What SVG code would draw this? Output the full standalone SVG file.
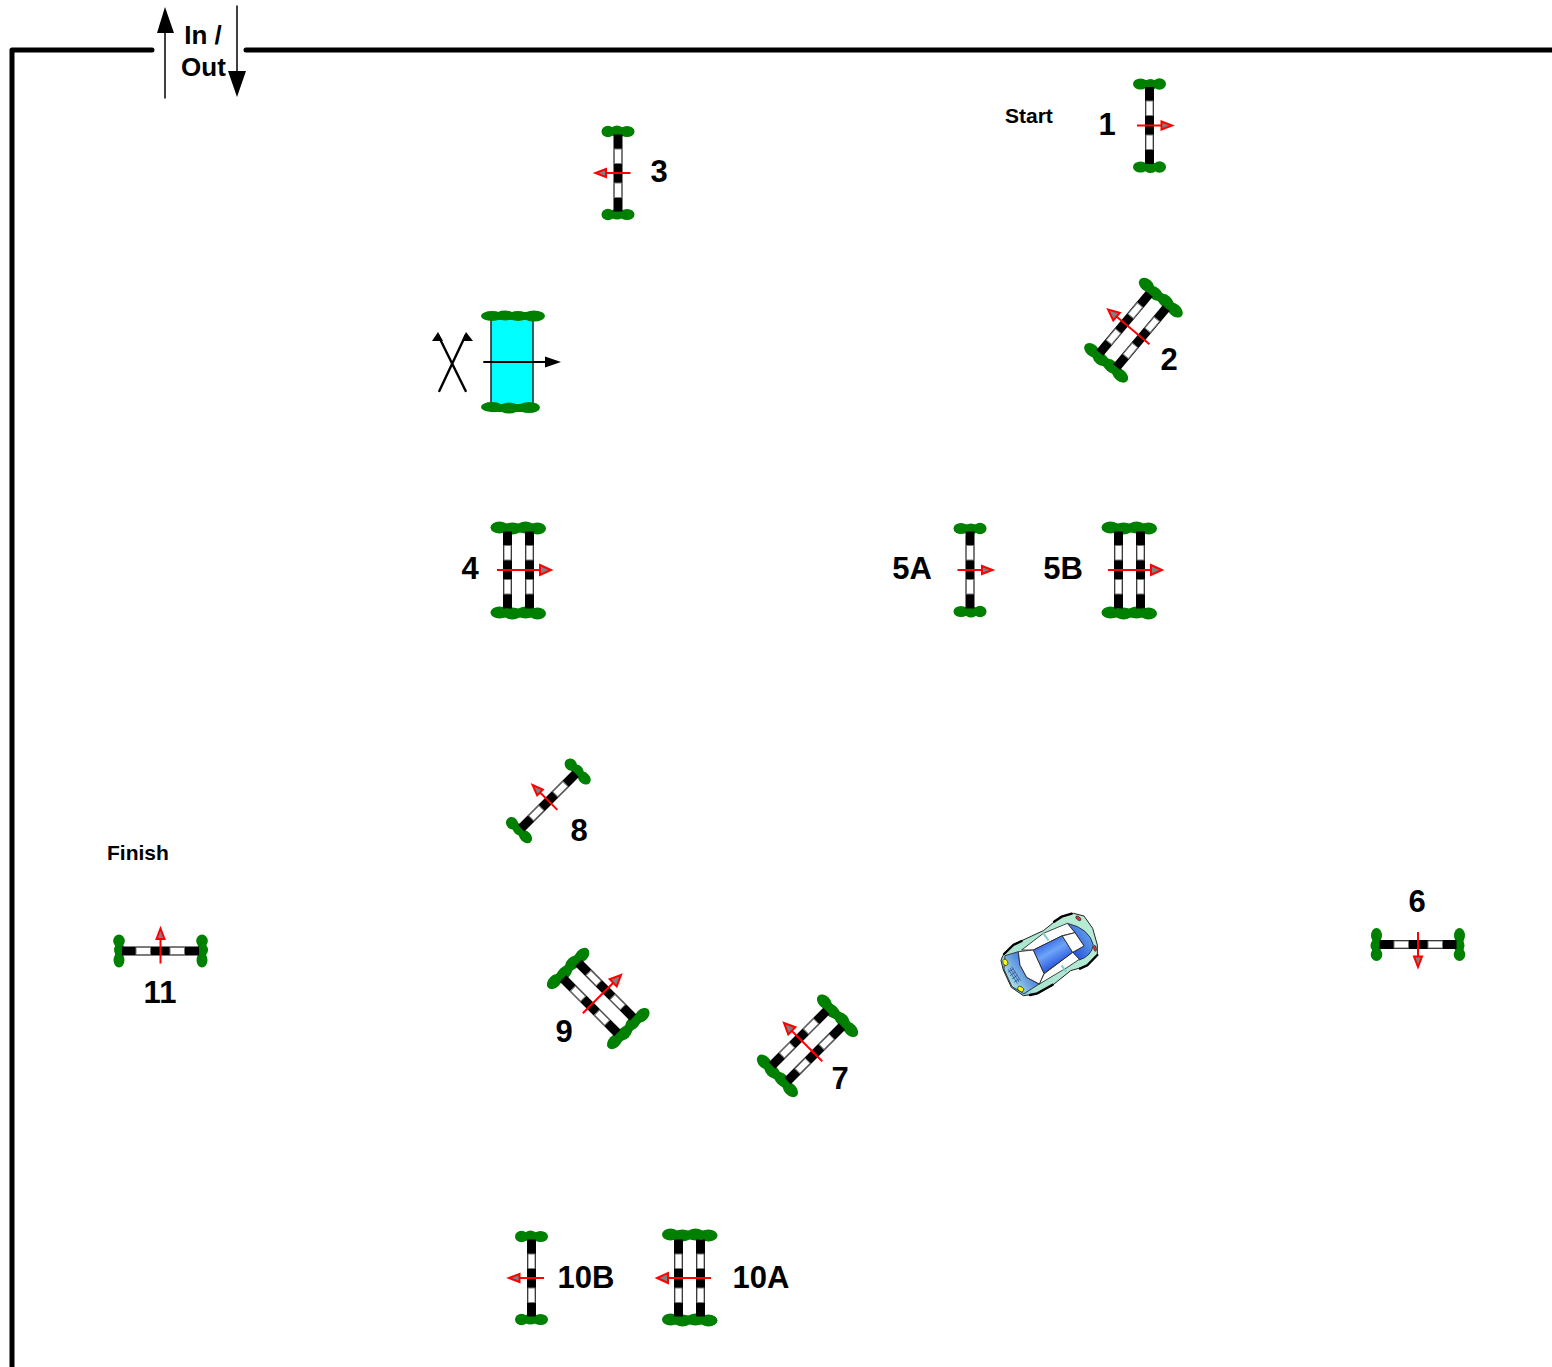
<svg xmlns="http://www.w3.org/2000/svg" xmlns:xlink="http://www.w3.org/1999/xlink" width="1552" height="1367" viewBox="0 0 1552 1367">
<style>
text{font-family:"Liberation Sans",Arial,sans-serif;font-weight:bold;fill:#000}
.l{font-size:31px;text-anchor:middle}
.s{font-size:21px}
.io{font-size:26px;text-anchor:middle}
.b{fill:#008000}
.w{fill:#fff;stroke:#777;stroke-width:1}
.r{stroke:#f00;stroke-width:2;fill:none}
.t{fill:#808080;stroke:#f00;stroke-width:2}
.wall{fill:none;stroke:#000;stroke-width:5;stroke-linecap:round;stroke-linejoin:round}
.k{fill:none;stroke:#000;stroke-linecap:round}
.c{stroke:#222;stroke-width:2.500}
</style>
<defs>
<g id="bushV"><rect class="b" x="-11" y="-4" width="23" height="8"/><ellipse class="b" cx="-9" cy="0" rx="7.500" ry="5.500"/><ellipse class="b" cx="1" cy="0.500" rx="6.500" ry="5.500"/><ellipse class="b" cx="10" cy="0" rx="6.500" ry="5.800"/></g>
<g id="bar"><rect x="-4.500" y="-38.500" width="9" height="77" fill="#000"/><rect class="w" x="-3.500" y="-24.500" width="7" height="14.500"/><rect class="w" x="-3.500" y="9.500" width="7" height="14.500"/></g>
<g id="single"><use href="#bushV" y="-41.500"/><use href="#bushV" y="41.500"/><use href="#bar"/><path class="r" d="M-12.500 0H13"/><path class="t" d="M12-4L22.500 0L12 4Z"/></g>
<g id="bushW"><rect class="b" x="-22" y="-4" width="44" height="9"/><ellipse class="b" cx="-19" cy="0" rx="9" ry="6"/><ellipse class="b" cx="-6" cy="1" rx="9" ry="6"/><ellipse class="b" cx="7" cy="0" rx="9" ry="6"/><ellipse class="b" cx="19" cy="1" rx="8.500" ry="6"/></g>
<g id="double"><use href="#bushW" y="-42.500"/><use href="#bushW" y="42.500"/><use href="#bar" x="-11"/><use href="#bar" x="11"/><path class="r" d="M-21.500 0H22"/><path class="t" d="M21.500-5L32.500 0L21.500 5Z"/></g>
<linearGradient id="carBody" gradientUnits="userSpaceOnUse" x1="70" y1="290" x2="340" y2="90"><stop offset="0" stop-color="#4a9ae8"/><stop offset=".2" stop-color="#a8e4d0"/><stop offset="1" stop-color="#b8ecd4"/></linearGradient>
<linearGradient id="roof" gradientUnits="userSpaceOnUse" x1="195" y1="150" x2="235" y2="220"><stop offset="0" stop-color="#2f5fe0"/><stop offset=".5" stop-color="#6ea4f8"/><stop offset="1" stop-color="#2f5fe0"/></linearGradient>
<linearGradient id="hood" gradientUnits="userSpaceOnUse" x1="80" y1="275" x2="150" y2="225"><stop offset="0" stop-color="#b0e8e0"/><stop offset="1" stop-color="#3a70e0"/></linearGradient>
<linearGradient id="rear" gradientUnits="userSpaceOnUse" x1="265" y1="175" x2="340" y2="130"><stop offset="0" stop-color="#2450d8"/><stop offset="1" stop-color="#6aa8ee"/></linearGradient>
</defs>

<g id="walls">
<path class="wall" d="M152 50H12V1367"/>
<path class="wall" d="M246 50H1552"/>
</g>

<g id="connectors">
<path class="k" stroke-width="1.500" d="M165 98V30"/>
<path d="M165 7L174 33H157Z" fill="#000"/>
<path class="k" stroke-width="1.500" d="M237 6V74"/>
<path d="M237 97L228 71H246Z" fill="#000"/>
</g>
<g id="in-out"><text class="io" x="203" y="44">In /</text><text class="io" x="203.500" y="76">Out</text></g>

<g id="jump-1"><use href="#single" transform="translate(1149.500 125.500)"/><text class="l" x="1107" y="135">1</text><text class="s" x="1005" y="123">Start</text></g>
<g id="jump-2"><use href="#double" transform="translate(1133 330.500) rotate(220)"/><text class="l" x="1169" y="370">2</text></g>
<g id="jump-3"><use href="#single" transform="translate(618 173) rotate(180)"/><text class="l" x="659" y="182">3</text></g>
<g id="water-jump">
<rect x="491" y="318" width="42" height="87" fill="#0ff" stroke="#222" stroke-width="1.500"/>
<rect class="b" x="490" y="312" width="46" height="8"/><rect class="b" x="490" y="404" width="42" height="8"/>
<ellipse class="b" cx="492" cy="316" rx="11" ry="5"/><ellipse class="b" cx="505" cy="315.500" rx="10" ry="5"/><ellipse class="b" cx="518" cy="316" rx="10" ry="5"/><ellipse class="b" cx="534" cy="316" rx="11" ry="5.500"/>
<ellipse class="b" cx="492" cy="407" rx="11" ry="5"/><ellipse class="b" cx="509" cy="408" rx="10" ry="5.500"/><ellipse class="b" cx="529" cy="407.500" rx="11" ry="5.500"/>
<path class="k" stroke-width="1.800" d="M484 362H548"/>
<path d="M561 362L545 356.500V367.500Z" fill="#000"/>
<path class="k" stroke-width="2.400" d="M439.300 391L465.700 335M465.700 391L438 335"/>
<path d="M438 332L443 341H432ZM466 332L473 341H462Z" fill="#000"/>
</g>
<g id="jump-4"><use href="#double" transform="translate(518.500 570)"/><text class="l" x="470" y="579">4</text></g>
<g id="jump-5a"><use href="#single" transform="translate(970 570)"/><text class="l" x="912" y="579">5A</text></g>
<g id="jump-5b"><use href="#double" transform="translate(1129.500 570)"/><text class="l" x="1063" y="579">5B</text></g>
<g id="jump-6"><use href="#single" transform="translate(1418 944.500) rotate(90)"/><text class="l" x="1417" y="912">6</text></g>
<g id="jump-7"><use href="#double" transform="translate(807 1046) rotate(225)"/><text class="l" x="840" y="1089">7</text></g>
<g id="jump-8"><use href="#single" transform="translate(548.500 801) rotate(225)"/><text class="l" x="579" y="841">8</text></g>
<g id="jump-9"><use href="#double" transform="translate(598 998) rotate(-45)"/><text class="l" x="564" y="1042">9</text></g>
<g id="jump-10a"><use href="#double" transform="translate(689.500 1278) rotate(180)"/><text class="l" x="761" y="1288">10A</text></g>
<g id="jump-10b"><use href="#single" transform="translate(531.500 1278) rotate(180)"/><text class="l" x="586" y="1288">10B</text></g>
<g id="jump-11"><use href="#single" transform="translate(160.500 951) rotate(-90)"/><text class="l" x="160" y="1003">11</text><text class="s" x="107" y="860">Finish</text></g>

<g id="car" transform="translate(980 890) scale(.33333)">
<path d="M68 198L100 163L125 152L190 122L240 82L280 70L312 78L338 115L352 165L352 197L320 228L272 242L216 287L170 312L130 317L94 292L70 240L63 212Z" fill="url(#carBody)" stroke="#222" stroke-width="3" stroke-linejoin="round"/>
<path d="M72 192L100 165L125 153M222 95L245 80L275 71M352 195L322 226L300 236M218 284L172 310L150 315" fill="none" stroke="#000" stroke-width="7" stroke-linecap="round"/>
<path class="c" d="M75 197L115 185L120 225L140 262L178 282L132 311L96 290L72 238Z" fill="url(#hood)"/>
<path class="c" d="M262 100Q328 115 340 165Q335 198 298 210L278 187L312 168L285 128Z" fill="url(#rear)"/>
<path class="c" d="M125 180L190 130L262 100L285 128L247 137L160 180Z" fill="#fff"/>
<path class="c" d="M192 252L278 187L298 208L262 232L178 282Z" fill="#fff"/>
<path class="c" d="M115 185L160 180L192 250L178 282L140 262L120 225Z" fill="#fff"/>
<path class="c" d="M160 180L247 137L278 187L192 250Z" fill="url(#roof)"/>
<path class="c" d="M247 138L285 128L312 168L278 187Z" fill="#fff"/>
<path d="M190 130L206 152M245 226L258 245" stroke="#80d0d0" stroke-width="6" fill="none"/>
<ellipse cx="76" cy="217" rx="7" ry="10" transform="rotate(-25 76 217)" fill="#ff0" stroke="#222" stroke-width="2"/>
<ellipse cx="122" cy="297" rx="7" ry="10" transform="rotate(-55 122 297)" fill="#ff0" stroke="#222" stroke-width="2"/>
<ellipse cx="295" cy="85" rx="9" ry="5" transform="rotate(40 295 85)" fill="#e03040" stroke="#222" stroke-width="2"/>
<ellipse cx="345" cy="175" rx="4" ry="9" transform="rotate(-10 345 175)" fill="#e03040" stroke="#222" stroke-width="2"/>
<path d="M85 238L112 280M90 234L117 276M95 230L122 272M84 247L100 236M90 257L106 246M96 267L112 256M102 277L118 266" stroke="#1c3c90" stroke-width="2" fill="none"/>
</g>
</svg>
